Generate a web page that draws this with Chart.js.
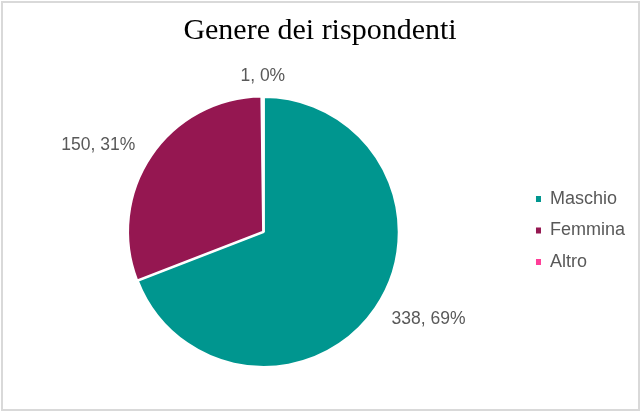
<!DOCTYPE html>
<html lang="it">
<head>
<meta charset="utf-8">
<title>Genere dei rispondenti</title>
<script src="https://cdn.jsdelivr.net/npm/chart.js@4/dist/chart.umd.min.js"></script>
<style>
  html, body { margin: 0; padding: 0; background: #ffffff; }
  #wrap { position: relative; width: 643px; height: 413px; }
  #frame {
    position: absolute; left: 1px; top: 1px; width: 639px; height: 410px;
    border: 2px solid #d9d9d9; box-sizing: border-box; pointer-events: none;
  }
</style>
</head>
<body>
<div id="wrap">
  <canvas id="genderChart"></canvas>
  <div id="frame"></div>
</div>
<script>
// Risposte per genere
const categories = ['Maschio', 'Femmina', 'Altro'];
const counts = [338, 150, 1];
const sliceColors = ['#00968f', '#951751', '#ff3d98'];

// Etichette "valore, percentuale" attorno alla torta
const sliceLabels = {
    id: 'sliceLabels',
    afterDatasetsDraw(chart) {
        const ctx = chart.ctx;
        const meta = chart.getDatasetMeta(0);
        const total = counts.reduce((a, b) => a + b, 0);
        ctx.save();
        ctx.font = '17.5px "Liberation Sans", Arial, sans-serif';
        ctx.fillStyle = '#595959';
        meta.data.forEach((arc, i) => {
            const p = arc.getProps(['x', 'y', 'startAngle', 'endAngle', 'outerRadius'], true);
            const mid = (p.startAngle + p.endAngle) / 2;
            const cx = Math.cos(mid), cy = Math.sin(mid);
            const vertical = Math.abs(cy) > 0.95;
            const r = p.outerRadius + (vertical ? 12 : 20);
            const px = p.x + cx * r;
            const py = p.y + cy * r;
            ctx.textAlign = cx > 0.3 ? 'left' : (cx < -0.3 ? 'right' : 'center');
            ctx.textBaseline = vertical ? (cy < 0 ? 'bottom' : 'top') : 'middle';
            const pct = Math.round(counts[i] / total * 100);
            ctx.fillText(counts[i] + ', ' + pct + '%', px, py);
        });
        ctx.restore();
    }
};

const baseLegendLabels = Chart.overrides.pie.plugins.legend.labels.generateLabels;

new Chart(document.getElementById('genderChart'), {
    type: 'pie',
    data: {
        labels: categories,
        datasets: [{
            data: counts,
            backgroundColor: sliceColors,
            borderColor: '#ffffff',
            borderWidth: 2,
            offset: [0, 3, 0]
        }]
    },
    options: {
        responsive: true,
        maintainAspectRatio: false,
        animation: false,
        radius: 135,
        layout: { padding: { left: 5, right: 8, top: 0, bottom: 8 } },
        plugins: {
            title: {
                display: true,
                text: 'Genere dei rispondenti',
                color: '#000000',
                font: { family: '"Liberation Serif", "Times New Roman", serif', size: 30, weight: 'normal' },
                padding: { top: 13, bottom: 10 }
            },
            legend: {
                position: 'right',
                // empty title block pushes the entries down to the pie's middle
                title: { display: true, text: '', font: { size: 10, lineHeight: 1 }, padding: { top: 23, bottom: 23 } },
                labels: {
                    color: '#595959',
                    font: { family: '"Liberation Sans", Arial, sans-serif', size: 18 },
                    boxWidth: 5,
                    boxHeight: 6,
                    padding: 13.5,
                    generateLabels: chart => baseLegendLabels(chart).map(l => ({ ...l, lineWidth: 0 }))
                }
            },
            tooltip: { enabled: false }
        }
    },
    plugins: [sliceLabels]
});
</script>
</body>
</html>
